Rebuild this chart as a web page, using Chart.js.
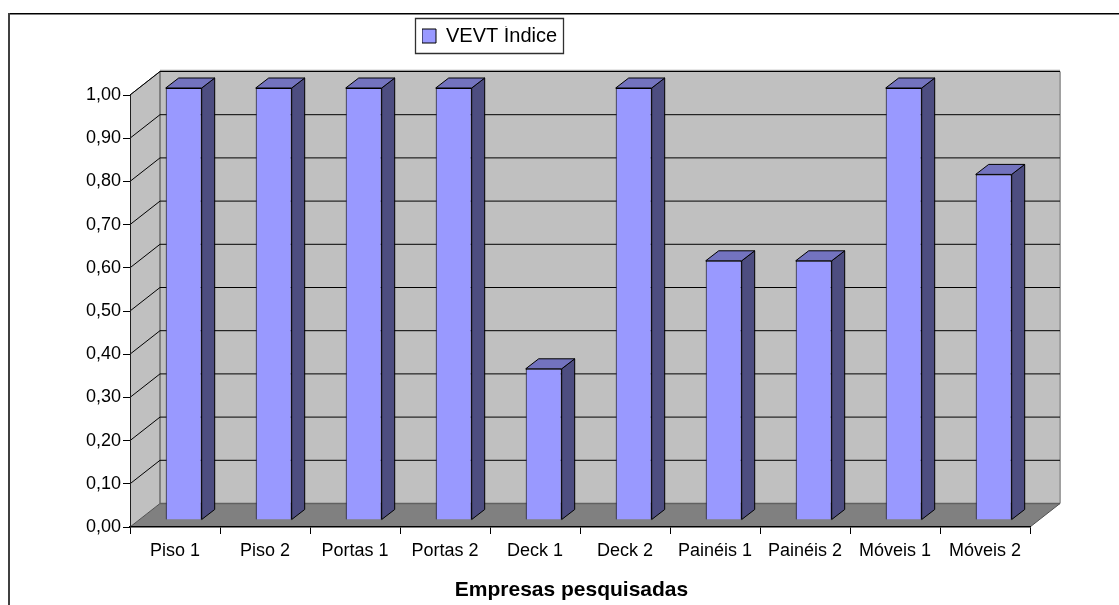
<!DOCTYPE html>
<html>
<head>
<meta charset="utf-8">
<title>VEVT Índice</title>
<script src="https://cdn.jsdelivr.net/npm/chart.js@4"></script>
<style>
  html, body { margin: 0; padding: 0; background: #fff; overflow: hidden; }
  canvas { display: block; }
</style>
</head>
<body>
<canvas id="vevtChart" width="1119" height="605"></canvas>
<script>
const categories = ["Piso 1", "Piso 2", "Portas 1", "Portas 2", "Deck 1", "Deck 2", "Painéis 1", "Painéis 2", "Móveis 1", "Móveis 2"];
const vevtValues = [1, 1, 1, 1, 0.35, 1, 0.6, 0.6, 1, 0.8];
const yTickLabels = ["0,00", "0,10", "0,20", "0,30", "0,40", "0,50", "0,60", "0,70", "0,80", "0,90", "1,00"];
const seriesName = "VEVT Índice";
const xTitle = "Empresas pesquisadas";

const fontFamily = "'Liberation Sans', Arial, sans-serif";

// depth of the box behind the axes
const wallDx = 30;
const wallDy = -23.5;
// depth of each bar, and where the bars stand on the floor
const barDx = 13;
const barDy = -10;
const barShiftX = 8.7;
const barShiftY = -7;

const polygon = (ctx, points, fill, stroke, lineWidth = 1) => {
  ctx.beginPath();
  points.forEach(([x, y], i) => (i === 0 ? ctx.moveTo(x, y) : ctx.lineTo(x, y)));
  ctx.closePath();
  if (fill) {
    ctx.fillStyle = fill;
    ctx.fill();
  }
  if (stroke) {
    ctx.strokeStyle = stroke;
    ctx.lineWidth = lineWidth;
    ctx.stroke();
  }
};

const line = (ctx, x1, y1, x2, y2, color, width = 1) => {
  ctx.beginPath();
  ctx.moveTo(x1, y1);
  ctx.lineTo(x2, y2);
  ctx.strokeStyle = color;
  ctx.lineWidth = width;
  ctx.stroke();
};

// Outer frame, legend box, walls, floor and gridlines
const boxPlugin = {
  id: "box3d",
  afterLayout(chart) {
    const legend = chart.legend;
    const w = legend.width;
    const h = legend.height;
    legend.left = 422;
    legend.top = 26;
    legend.right = legend.left + w;
    legend.bottom = legend.top + h;

    // axis title sits a little left of the axis centre
    const xScale = chart.scales.x;
    const drawTitle = xScale.drawTitle;
    xScale.drawTitle = function () {
      chart.ctx.save();
      chart.ctx.translate(-8.5, 3);
      drawTitle.call(this);
      chart.ctx.restore();
    };
  },
  beforeDraw(chart) {
    const { ctx, chartArea: a, scales } = chart;
    const y = scales.y;
    ctx.save();

    line(ctx, 8, 13.75, chart.width, 13.75, "#000", 1.5);
    line(ctx, 9, 13, 9, chart.height, "#404040", 2);

    polygon(ctx, [[415.5, 18.5], [563.5, 18.5], [563.5, 53.5], [415.5, 53.5]], "#fff", "#303030", 1.3);

    const bx = a.left + wallDx;
    const tY = a.top + wallDy;
    const bY = a.bottom + wallDy;
    const rx = a.right + wallDx;

    polygon(ctx, [[bx, tY], [rx, tY], [rx, bY], [bx, bY]], "#c0c0c0");
    polygon(ctx, [[a.left, a.top], [bx, tY], [bx, bY], [a.left, a.bottom]], "#c0c0c0");
    polygon(ctx, [[a.left, a.bottom], [bx, bY], [rx, bY], [a.right, a.bottom]], "#808080");

    line(ctx, rx, tY, rx, bY, "#a0a0a0", 2);
    line(ctx, bx, tY - 1, rx, tY - 1, "#a0a0a0", 1.5);
    line(ctx, bx, tY, bx, bY, "#808080", 2);
    line(ctx, bx, bY, rx, bY, "#606060", 1.5);
    line(ctx, a.left, a.top, bx, tY, "#505050", 1);
    line(ctx, a.left, a.bottom, bx, bY, "#505050", 1);
    line(ctx, a.right, a.bottom, rx, bY, "#505050", 1);

    yTickLabels.forEach((_, i) => {
      if (i === 0) return;
      const py = y.getPixelForValue(i / 10);
      line(ctx, a.left, py, bx, py + wallDy, "#000");
      line(ctx, bx, py + wallDy, rx, py + wallDy, "#000");
    });
    ctx.restore();
  },
  // bars stand inside the floor, so the whole layer is moved back
  beforeDatasetsDraw(chart) {
    const { ctx } = chart;
    ctx.save();
    ctx.translate(barShiftX, barShiftY);
    chart.getDatasetMeta(0).data.forEach((bar) => {
      const left = bar.x - bar.width / 2;
      const right = bar.x + bar.width / 2;
      const top = bar.y;
      const bottom = bar.base;
      polygon(ctx, [[right, top], [right + barDx, top + barDy], [right + barDx, bottom + barDy], [right, bottom]], "#4d4d80", "#000");
      polygon(ctx, [[left, top], [left + barDx, top + barDy], [right + barDx, top + barDy], [right, top]], "#7373bf", "#000");
    });
  },
  afterDatasetsDraw(chart) {
    chart.ctx.restore();
  },
};

new Chart(document.getElementById("vevtChart").getContext("2d"), {
  type: "bar",
  data: {
    labels: categories,
    datasets: [
      {
        label: seriesName,
        data: vevtValues,
        backgroundColor: "#9999ff",
        borderColor: "#000",
        borderWidth: 1,
        barPercentage: 0.4,
        categoryPercentage: 1,
      },
    ],
  },
  options: {
    responsive: false,
    animation: false,
    events: [],
    layout: { padding: { left: 10, right: 89, top: 95, bottom: 5 } },
    scales: {
      x: {
        afterFit: (scale) => {
          scale.height = 73;
        },
        grid: {
          drawOnChartArea: false,
          tickLength: 7,
          tickColor: "#000",
        },
        border: { color: "#000", width: 1.5 },
        ticks: {
          color: "#000",
          maxRotation: 0,
          autoSkip: false,
          padding: 6,
          font: { family: fontFamily, size: 18 },
        },
        title: {
          display: true,
          text: xTitle,
          color: "#000",
          padding: { top: 13, bottom: 0 },
          font: { family: fontFamily, size: 21, weight: "bold" },
        },
      },
      y: {
        min: 0,
        max: 1,
        afterFit: (scale) => {
          scale.width = 120;
        },
        grid: {
          drawOnChartArea: false,
          tickLength: 7,
          tickColor: "#000",
        },
        border: { color: "#202020", width: 1 },
        ticks: {
          color: "#000",
          stepSize: 0.1,
          padding: 2,
          font: { family: fontFamily, size: 18 },
          callback: (value, index) => yTickLabels[index],
        },
      },
    },
    plugins: {
      tooltip: { enabled: false },
      legend: {
        position: "chartArea",
        align: "start",
        labels: {
          color: "#000",
          boxWidth: 14,
          boxHeight: 14,
          padding: 0,
          font: { family: fontFamily, size: 20 },
          generateLabels: () => [
            {
              text: seriesName,
              fillStyle: "#9999ff",
              strokeStyle: "#000",
              lineWidth: 1,
              datasetIndex: 0,
            },
          ],
        },
      },
    },
  },
  plugins: [boxPlugin],
});
</script>
</body>
</html>
